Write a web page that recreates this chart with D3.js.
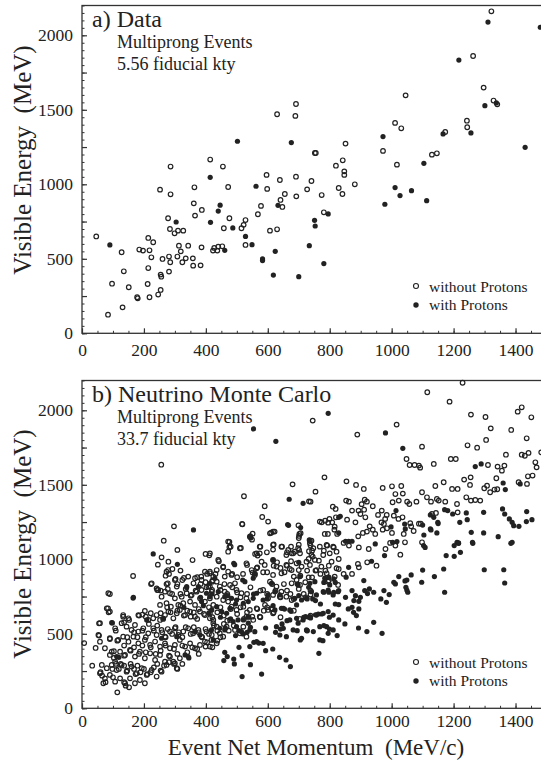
<!DOCTYPE html>
<html>
<head>
<meta charset="utf-8">
<script src="https://cdn.jsdelivr.net/npm/d3@7"></script>
<style>
  body { margin: 0; background: #fff; }
  svg { display: block; font-family: "Liberation Serif", "Times New Roman", serif; }
</style>
</head>
<body>
<div id="container"></div>
<script>
const width = 541; // page size
const height = 761;
const marginLeft = 82; // x of the left axis
const plotRight = 546.5; // frame runs off the right edge like the scan

// tick values
const xMajorTicks = [0, 200, 400, 600, 800, 1000, 1200, 1400];
const xMinorTicks = d3.range(0, 1501, 50);
const yMidTicks = d3.range(0, 2201, 250);
const yMinorTicks = d3.range(0, 2201, 50);

// a) Data : [momentum MeV/c, visible energy MeV]
const dataWithout = [
  [46,650],[97,333],[84,125],[128,544],[135,416],[151,309],[131,174],[178,242],[180,235],[185,562],
  [197,555],[214,640],[218,557],[214,438],[212,331],[218,242],[224,510],[230,611],[246,260],[254,291],
  [260,499],[254,394],[256,380],[252,964],[278,772],[281,414],[286,1119],[286,933],[284,700],[299,671],
  [310,689],[281,515],[285,477],[308,515],[313,588],[319,550],[324,477],[327,689],[335,503],[343,588],
  [358,503],[363,980],[361,872],[365,790],[359,454],[383,456],[386,577],[387,828],[414,1166],[423,555],
  [427,573],[437,555],[440,582],[453,584],[455,1119],[458,705],[472,982],[476,772],[515,705],[522,728],
  [528,760],[528,593],[568,799],[578,855],[596,1063],[598,969],[607,689],
  [630,1470],[691,1539],[689,1459],[639,1029],[691,1051],[655,935],[641,895],[647,848],[692,919],
  [630,698],[727,966],[741,1022],[752,1210],[755,1210],[774,928],[781,812],[820,1125],[842,1161],
  [847,1087],[847,1063],[851,1273],[829,975],[841,935],[881,1000],[972,1224],[1011,1412],[1031,1376],
  [1017,1132],[1045,1597],[1130,1199],[1146,1208],[1173,1351],[1263,1861],[1243,1427],[1244,1383],
  [1297,1649],[1322,2161],[1329,1562],[1341,1537]
];
const dataWith = [
  [90,593],[304,747],[414,1047],[415,745],[446,860],[440,820],[461,557],[487,707],[502,1289],[528,650],
  [549,595],[562,987],[583,499],[583,488],[676,1280],[633,859],[624,550],[618,391],[700,380],[795,801],
  [751,758],[753,720],[734,588],[781,468],[972,1320],[978,866],[1011,978],[1027,924],[1064,957],
  [1104,1141],[1113,890],[1166,1338],[1217,1834],[1256,1345],[1311,2089],[1301,1528],[1338,1546],
  [1431,1248],[1480,2054]
];

// b) Neutrino Monte Carlo
const mcWithout = [
  [256,1635],[680,1503],[523,1423],[590,1356],[733,1389],[582,1284],[601,1253],[518,1235],[297,1221],
  [699,1228],[702,1170],[700,1143],[611,1179],[622,1186],[551,1172],[549,1132],[264,1125],[476,1116],
  [619,1100],[736,1125],
  [308,1063],[257,1013],[357,995],[399,1036],[411,1027],[476,1081],[513,1076],[559,1036],[576,1085],
  [567,1025],[617,1065],[646,1085],[675,1085],[700,1098],[701,1063],[682,1040],[662,1047],[733,1054],
  [597,1047],
  [245,964],[279,984],[278,928],[281,902],[270,890],[165,888],[442,987],[404,902],[431,902],[385,884],
  [421,857],[456,946],[533,962],[566,946],[585,913],[590,962],[619,957],[598,913],[630,980],[641,942],
  [654,913],[662,957],[671,935],[675,987],[700,928],[705,890],[727,924],[732,879],[684,884],[551,911],
  [520,902],[501,880],[485,902],[372,880],[318,924],[302,868],[329,875],
  [90,767],[223,834],[243,794],[254,790],[273,834],[277,801],[308,834],[291,767],[318,767],[335,801],
  [351,756],[367,790],[383,834],[399,846],[402,812],[420,794],[447,794],[460,834],[469,767],[485,812],
  [501,778],[512,745],[533,767],[544,812],[576,790],[598,767],[614,834],[625,790],[641,745],[652,834],
  [662,790],[673,767],[684,734],[700,801],[716,767],[721,846],[738,790],
  [84,671],[86,644],[133,615],[136,577],[152,593],[184,622],[195,629],[206,615],[222,638],[254,638],
  [262,600],[275,678],[286,644],[308,655],[318,689],[329,622],[340,655],[351,615],[361,644],[372,600],
  [377,666],[394,633],[410,678],[421,611],[437,644],[447,678],[458,622],[469,588],[480,666],[501,633],
  [512,678],[523,600],[533,644],[550,615],[566,666],[576,611],[587,655],[598,678],[614,666],[619,644],
  [641,611],[684,655],[703,600],[738,622],
  [55,570],[55,488],[109,521],[90,465],[114,454],[146,477],[168,510],[179,477],[195,521],[206,477],
  [216,566],[232,521],[243,555],[259,510],[270,477],[277,532],[291,499],[302,544],[313,510],[324,477],
  [335,544],[351,499],[361,544],[377,510],[388,477],[399,532],[410,499],[426,555],[437,521],[447,477],
  [458,566],[474,521],[490,555],[7,438],
  [44,405],[103,383],[136,421],[157,387],[168,409],[184,365],[195,421],[206,376],[222,409],[238,365],
  [254,387],[270,421],[281,353],[297,398],[308,365],[324,421],[340,376],[356,409],[372,398],[377,365],
  [399,414],[404,443],[421,409],[437,454],[136,353],[103,338],
  [33,286],[60,242],[65,219],[100,208],[76,175],[98,264],[109,298],[125,298],[119,264],[136,286],
  [146,253],[157,298],[168,264],[173,230],[179,286],[189,242],[200,264],[211,230],[222,242],[232,275],
  [243,298],[254,253],[265,286],[281,309],[297,298],[308,264],[324,298],[136,175],[141,152],[152,141],
  [114,107],
  // denser core, lower left
  [273,917],[292,935],[300,861],[277,839],[306,817],[324,861],[343,884],[365,873],[360,839],[386,861],
  [397,917],[413,906],[421,850],[408,817],[419,783],[386,794],[370,783],[354,761],[338,772],[322,749],
  [300,738],[284,772],[268,783],[257,749],[246,794],[241,805],[225,839],[252,694],[273,705],[287,682],
  [311,694],[327,705],[349,716],[365,694],[381,738],[397,716],[413,738],[424,694],
  [182,626],[203,653],[214,593],[230,604],[241,626],[252,593],[268,626],[279,649],[295,604],[306,638],
  [316,660],[333,626],[349,649],[365,615],[381,649],[397,626],[413,604],[424,571],[150,604],[133,626],
  [128,571],[144,548],[160,526],[171,559],[182,515],[198,537],[214,503],[230,537],[241,492],[257,526],
  [268,481],[284,515],[300,537],[311,492],[327,515],[343,537],[359,503],[376,526],[386,481],[402,515],
  [419,492],[107,537],[90,470],[117,459],[133,481],[150,447],[166,481],[182,436],[203,459],[220,425],
  [236,448],[252,414],[268,436],[284,403],[300,425],[316,459],[333,414],[349,436],[365,403],[381,425],
  [397,448],[413,414],
  [58,571],[53,492],[85,772],[80,671],[90,649],[58,447],[74,403],[96,380],[90,358],[107,313],[123,380],
  [139,358],[155,392],[171,347],[187,380],[203,336],[220,369],[236,324],[252,358],[268,313],[284,347],
  [300,302],[316,336],[64,291],[80,269],[96,291],[112,257],[128,291],[144,246],[160,280],[177,235],
  [193,269],[209,224],[225,257],[241,213],[257,246],[273,291],[295,313],[306,269],[58,235],[74,201],
  [90,224],[107,179],[123,201],[139,168],[155,201],[171,168],[187,190],[203,168],[69,168],
  // denser core, middle
  [517,1237],[607,1174],[617,1186],[701,1157],[706,1175],[784,1170],[768,1253],[795,1246],[816,1219],
  [542,1152],[472,1119],[480,1085],[472,1051],[510,1074],[574,1085],[564,1040],[574,1040],[617,1096],
  [644,1085],[666,1063],[677,1040],[660,1029],[687,1051],[704,1040],[698,1074],[736,1107],[747,1074],
  [768,1085],[790,1096],[811,1085],[822,1051],[800,1040],[779,1029],[413,1040],[440,996],[456,951],
  [435,928],[472,917],[483,895],[461,884],[531,973],[564,940],[580,984],[548,928],[558,895],[617,996],
  [628,951],[644,906],[617,895],[660,962],[677,928],[693,973],[709,951],[725,984],[736,962],[752,996],
  [741,1029],[757,928],[773,951],[790,906],[806,984],[822,940],[816,884],[795,850],[827,828],[693,861],
  [704,828],[677,839],[628,817],[644,783],[660,749],[677,727],[639,749],[617,761],[607,850],[585,794],
  [601,738],[413,917],[424,884],[435,850],[413,817],[445,817],[461,783],[478,828],[494,839],[499,794],
  [515,772],[531,738],[435,749],[456,727],[472,716],[483,682],[499,660],[521,682],[542,660],[531,615],
  [553,593],[564,671],[574,615],[591,694],[601,660],[612,671],[617,638],[413,638],[424,593],[435,548],
  [445,503],[418,459],[456,481],[467,548],[478,593],[494,526],[510,503],[521,548],[531,481],[435,436],
  // upper right
  [1229,2185],[1115,2121],[1187,2058],[745,1931],[1256,1971],[1303,1955],[1420,2020],[1407,1991],
  [1451,1953],[1320,1879],[1386,1868],[1016,1904],[889,1837],[1436,1812],[1305,1801],[1245,1765],
  [1276,1749],[1098,1756],[1369,1702],[1420,1702],[1430,1695],[1442,1714],[1048,1673],[1058,1633],
  [1074,1633],[1088,1629],[1092,1615],[1136,1640],[1191,1673],[1207,1673],[1311,1633],[1342,1622],
  [1364,1629],[1356,1595],[1464,1651],[1468,1617],[1483,1718],
  [783,1550],[754,1454],[738,1387],[854,1523],[885,1499],[910,1472],[971,1479],[1001,1490],[1031,1492],
  [1141,1492],[1168,1517],[1195,1472],[1213,1472],[1234,1535],[1255,1550],[1253,1499],[1299,1477],
  [1308,1494],[1318,1450],[1332,1468],[1341,1470],[1338,1544],[1410,1517],[1437,1506],[1440,1557],
  [1455,1562],
  [1012,1438],[1036,1441],[1098,1450],[1114,1416],[1127,1387],[1146,1405],[1173,1387],[1241,1416],
  [1256,1394],[1270,1398],[1286,1394],
  [810,1353],[819,1338],[853,1394],[862,1387],[913,1400],[920,1387],[903,1370],[872,1327],[893,1327],
  [911,1333],[939,1356],[968,1327],[1003,1383],[1023,1394],[1050,1387],[1057,1371],[1080,1387],
  [774,1248],[785,1259],[799,1271],[808,1248],[820,1282],[856,1266],[883,1248],[899,1304],[915,1282],
  [956,1298],[984,1298],[967,1248],[979,1271],[1007,1293],[1022,1271],[1035,1282],[1060,1242],
  [1088,1239],[1094,1239],[1130,1304],[1143,1311],[1152,1394],[1211,1371],[1213,1315],
  [741,1125],[794,1170],[815,1199],[824,1170],[892,1154],[907,1177],[929,1221],[920,1186],[939,1199],
  [947,1170],[971,1199],[975,1237],[985,1208],[1001,1177],[1039,1170],[1063,1221],[1071,1190],[1098,1114],
  [980,1069],[995,1110],[1012,1092],[1043,1114],[1028,1031],[926,1069],[894,1080],[862,1092],[845,1110],
  [813,1080],[792,1092],[781,1058],[743,1058],[738,1092],[921,980],[951,957],[891,969],[894,946],
  [829,1002],[797,957],[765,991],[745,1018],[732,1002],[829,935],[845,902],[872,902],[786,924],[770,902],
  [754,924],[743,879],[797,857],[738,763],[722,745]
];
const mcWith = [
  [554,1875],[626,1792],[669,1403],[714,1376],[360,1197],[667,1228],[706,1213],[545,1143],
  [230,1036],[617,995],[308,966],[493,964],[559,902],[700,980],[519,861],
  [165,740],[338,817],[383,745],[420,767],[471,756],[554,767],[695,834],[732,812],[727,734],[700,756],
  [598,734],
  [98,573],[329,678],[392,689],[447,611],[496,700],[617,689],[654,666],[675,651],[733,611],[716,611],
  [539,611],[410,640],[480,600],
  [463,539],[496,488],[507,521],[520,499],[533,510],[544,544],[593,539],[625,510],[641,532],[646,566],
  [662,588],[695,521],[705,459],[727,521],[555,443],[571,438],
  [345,338],[461,376],[469,347],[490,331],[507,409],[517,353],[593,387],[616,398],[638,342],[659,324],
  [119,342],
  [492,298],[544,293],[673,280],[517,213],[580,230],[458,320],
  [338,810],[376,817],[402,772],[166,745],[386,716],[419,660],[96,575],[209,593],[263,604],[306,481],
  [365,515],[381,492],[257,470],[333,358],[343,347],[424,459],[112,347],
  [664,1233],[734,1130],[544,1157],[490,973],[612,839],[623,783],[553,873],[558,906],[526,850],
  [413,839],[429,872],[440,783],[461,749],[483,738],[499,727],[521,705],[537,716],[553,738],
  [564,772],[585,727],[601,761],[639,761],[650,671],[671,660],[687,738],[709,727],[725,738],[741,783],
  [757,761],[779,783],[795,794],[811,761],[827,783],[693,694],[704,884],[698,828],[736,839],[752,850],
  [784,873],[800,828],[413,749],[435,682],[451,649],[467,638],[488,582],[504,593],[521,593],[537,615],
  [478,671],[445,537],[461,526],[499,548],[515,515],[537,571],[542,526],[418,526],
  [623,660],[644,671],[671,593],[693,604],[714,593],[736,615],[757,626],[779,638],[795,649],[811,626],
  [628,548],[650,537],[682,526],[698,571],[725,526],[747,515],[768,548],[790,548],[811,526],
  [639,492],[660,481],[709,470],[768,459],[795,503],[564,447],[585,436],[558,514],[542,414],
  [795,1980],[980,1848],[1036,1745],[1270,1622],[1289,1640],[1360,1512],[1367,1468],[1415,1506],
  [829,1282],[834,1289],[1014,1327],[1042,1237],[1125,1298],[1136,1282],[1149,1248],[1171,1333],
  [1181,1327],[1197,1304],[1220,1248],[1244,1266],[1241,1311],[1297,1315],[1358,1338],[1365,1304],
  [1380,1271],[1389,1248],[1394,1226],[1411,1221],[1435,1253],[1436,1320],[1453,1266],[829,1177],
  [851,1121],[861,1121],[872,1121],[998,1217],[1017,1119],[1003,1114],[1044,1204],[1104,1163],
  [1125,1204],[1127,1197],[1146,1177],[1216,1107],[1211,1114],[1257,1181],[1262,1107],[1344,1152],
  [1297,1177],[1389,1114],[1150,1240],[1100,1230],
  [947,1103],[977,1025],[1103,1092],[1108,1080],[1202,1092],[1216,1110],[1222,1047],[1202,1020],
  [1176,1025],[1261,1114],[1385,1107],[935,987],[861,946],[853,880],[797,880],[813,868],[818,845],
  [781,845],
  [1100,928],[1138,884],[1168,935],[1299,930],[1362,930],[1365,841],[1097,846],[1171,779],[1063,895],
  [1049,861],[1043,855],[1023,884],[1007,846],[1012,835],[1049,794],[1046,812],[1052,779],[992,763],
  [975,790],[983,711],[965,734],[942,779],[928,801],[922,770],[913,790],[910,857],[899,745],[883,756],
  [872,790],[894,718],[878,723],[851,745],[829,790],[813,779],[797,779],[781,779],[754,723],[745,734],
  [770,700],[818,700],[829,696],[860,667],[877,644],[886,622],[872,678],[894,667],[763,633],[774,633],
  [754,628],[738,606],[722,615],[799,611],[781,555],[799,532],[829,593],[849,566],[893,539],[920,515],
  [942,577],[969,503],[824,488],[778,454],[727,521],[765,369]
];

const ink = "#222";

const svg = d3.select("#container").append("svg")
  .attr("width", width)
  .attr("height", height)
  .attr("viewBox", [0, 0, width, height]);

svg.append("rect").attr("width", width).attr("height", height).attr("fill", "#fff");

const x = d3.scaleLinear().domain([0, 1500]).range([marginLeft, plotRight]);

function drawPanel(p) {
  const y = d3.scaleLinear().domain([0, 2200]).range([p.bottom, p.top]);
  const g = svg.append("g");

  // frame
  g.append("rect")
    .attr("x", marginLeft).attr("y", y(2200))
    .attr("width", plotRight - marginLeft).attr("height", y(0) - y(2200))
    .attr("fill", "none").attr("stroke", "#333").attr("stroke-width", 1.3);

  // minor ticks, pointing inward
  g.append("g")
    .attr("transform", `translate(0,${y(0)})`)
    .call(d3.axisBottom(x).tickValues(xMinorTicks).tickSize(-2.5).tickFormat(""))
    .call(a => a.select(".domain").remove())
    .call(a => a.selectAll("line").attr("stroke", "#333"));
  g.append("g")
    .attr("transform", `translate(${marginLeft},0)`)
    .call(d3.axisLeft(y).tickValues(yMinorTicks).tickSize(-2.5).tickFormat(""))
    .call(a => a.select(".domain").remove())
    .call(a => a.selectAll("line").attr("stroke", "#333"));

  // major x ticks with labels
  g.append("g")
    .attr("transform", `translate(0,${y(0)})`)
    .call(d3.axisBottom(x).tickValues(xMajorTicks).tickSize(-5).tickFormat(d3.format("d")))
    .call(a => a.select(".domain").remove())
    .call(a => a.selectAll("line").attr("stroke", "#333").attr("stroke-width", 1.2))
    .call(a => a.selectAll("text")
      .attr("y", p.xLabelBase).attr("dy", null)
      .attr("font-family", "Liberation Serif").attr("font-size", 17.5).attr("fill", ink));

  // y ticks every 250, labels every 500
  g.append("g")
    .attr("transform", `translate(${marginLeft},0)`)
    .call(d3.axisLeft(y).tickValues(yMidTicks).tickSize(-5).tickPadding(9)
      .tickFormat(d => d % 500 === 0 ? d : ""))
    .call(a => a.select(".domain").remove())
    .call(a => a.selectAll("line").attr("stroke", "#333").attr("stroke-width", 1.2))
    .call(a => a.selectAll("text")
      .attr("font-family", "Liberation Serif").attr("font-size", 17.5).attr("fill", ink));

  // points
  g.append("g")
    .selectAll("circle")
    .data(p.open)
    .join("circle")
    .attr("cx", d => x(d[0]))
    .attr("cy", d => y(d[1]))
    .attr("r", 2.3)
    .attr("fill", "none")
    .attr("stroke", ink)
    .attr("stroke-width", 1.2);

  g.append("g")
    .selectAll("circle")
    .data(p.filled)
    .join("circle")
    .attr("cx", d => x(d[0]))
    .attr("cy", d => y(d[1]))
    .attr("r", 2.6)
    .attr("fill", ink);

  // texts
  g.append("text")
    .attr("x", 92).attr("y", p.top + p.titleDy)
    .attr("font-size", 24).attr("fill", ink)
    .text(p.title);
  g.append("text")
    .attr("x", 117).attr("y", p.top + p.titleDy + 21)
    .attr("font-size", 18).attr("fill", ink)
    .text("Multiprong Events");
  g.append("text")
    .attr("x", 117).attr("y", p.top + p.titleDy + 43)
    .attr("font-size", 18).attr("fill", ink)
    .text(p.exposure);

  g.append("text")
    .attr("transform", `translate(31,${p.yTitleMid}) rotate(-90)`)
    .attr("text-anchor", "middle")
    .attr("font-size", 25).attr("fill", ink)
    .attr("xml:space", "preserve")
    .text("Visible Energy  (MeV)");

  // legend
  const lg = g.append("g").attr("transform", `translate(416,${p.legendY})`);
  lg.append("circle").attr("r", 2.5).attr("fill", "none").attr("stroke", ink).attr("stroke-width", 1.1);
  lg.append("circle").attr("cy", 19).attr("r", 2.7).attr("fill", ink);
  lg.append("text").attr("x", 13).attr("y", 5.5)
    .attr("font-size", 15.5).attr("fill", ink).text("without Protons");
  lg.append("text").attr("x", 13).attr("y", 24)
    .attr("font-size", 15.5).attr("fill", ink).text("with Protons");
}

drawPanel({
  top: 5.5, bottom: 333.3, xLabelBase: 22.5, titleDy: 21.5, yTitleMid: 160, legendY: 286,
  title: "a) Data", exposure: "5.56 fiducial kty",
  open: dataWithout, filled: dataWith
});

drawPanel({
  top: 380.5, bottom: 708.3, xLabelBase: 18.5, titleDy: 21.5, yTitleMid: 544, legendY: 662,
  title: "b) Neutrino Monte Carlo", exposure: "33.7 fiducial kty",
  open: mcWithout, filled: mcWith
});

svg.append("text")
  .attr("x", 316).attr("y", 755)
  .attr("text-anchor", "middle")
  .attr("font-size", 23).attr("fill", ink)
  .attr("xml:space", "preserve")
  .text("Event Net Momentum  (MeV/c)");
</script>
</body>
</html>
